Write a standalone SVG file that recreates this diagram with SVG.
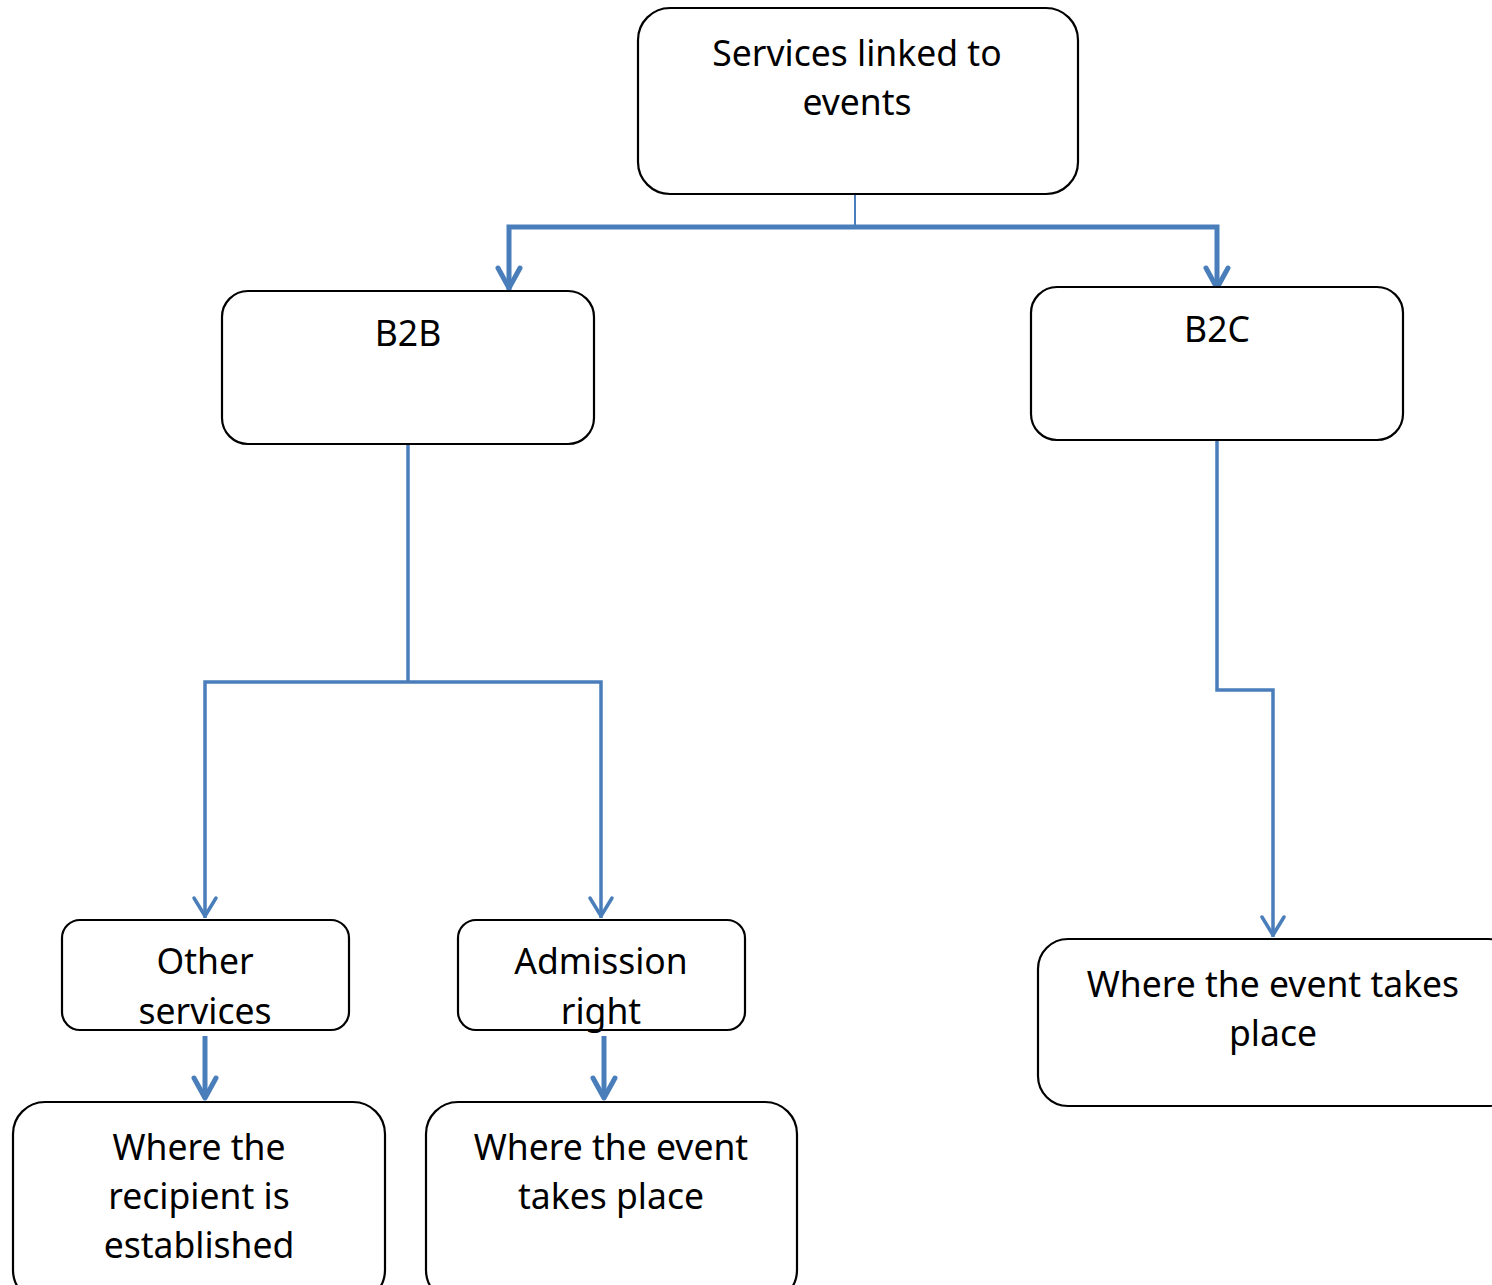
<svg xmlns="http://www.w3.org/2000/svg" width="1492" height="1285" viewBox="0 0 1492 1285">
<style>
.box{fill:#fff;stroke:#000;stroke-width:2.2}
.t{font-family:"Noto Sans","Open Sans","Liberation Sans",sans-serif;font-size:35.5px;fill:#000;text-anchor:middle}
.c{fill:none;stroke:#4a7ebb;stroke-linejoin:miter}
.ah{fill:none;stroke:#4a7ebb;stroke-linecap:round;stroke-linejoin:round}
</style>
<rect width="1492" height="1285" fill="#fff"/>
<g id="connectors">
<path class="c" d="M855 192V227" stroke-width="2"/>
<path class="c" d="M509 290V227H1217V290" stroke-width="5"/>
<path class="ah" d="M498 268L509 288L520 268" stroke-width="5"/>
<path class="ah" d="M1206 268L1217 288L1228 268" stroke-width="5"/>
<path class="c" d="M408 444V682M205 918V682H601V918" stroke-width="3.5"/>
<path class="ah" d="M194 898L205 916L216 898" stroke-width="3.5"/>
<path class="ah" d="M590 898L601 916L612 898" stroke-width="3.5"/>
<path class="c" d="M205 1036V1098" stroke-width="5"/>
<path class="ah" d="M194 1078L205 1098L216 1078" stroke-width="5"/>
<path class="c" d="M604 1036V1098" stroke-width="5"/>
<path class="ah" d="M593 1078L604 1098L615 1078" stroke-width="5"/>
<path class="c" d="M1217 440V690H1273V937" stroke-width="3.5"/>
<path class="ah" d="M1262 917L1273 935L1284 917" stroke-width="3.5"/>
</g>
<g id="n-top"><rect class="box" x="638" y="8" width="440" height="186" rx="32"/><text class="t" x="857" y="66">Services linked to</text><text class="t" x="857" y="115">events</text></g>
<g id="n-b2b"><rect class="box" x="222" y="291" width="372" height="153" rx="26"/><text class="t" x="408" y="346">B2B</text></g>
<g id="n-b2c"><rect class="box" x="1031" y="287" width="372" height="153" rx="26"/><text class="t" x="1217" y="342">B2C</text></g>
<g id="n-other"><rect class="box" x="62" y="920" width="287" height="110" rx="18"/><text class="t" x="205" y="974">Other</text><text class="t" x="205" y="1024">services</text></g>
<g id="n-admission"><rect class="box" x="458" y="920" width="287" height="110" rx="18"/><text class="t" x="601" y="974">Admission</text><text class="t" x="601" y="1024">right</text></g>
<g id="n-recipient"><rect class="box" x="13" y="1102" width="372" height="200" rx="32"/><text class="t" x="199" y="1160">Where the</text><text class="t" x="199" y="1209">recipient is</text><text class="t" x="199" y="1258">established</text></g>
<g id="n-event-mid"><rect class="box" x="426" y="1102" width="371" height="200" rx="32"/><text class="t" x="611" y="1160">Where the event</text><text class="t" x="611" y="1209">takes place</text></g>
<g id="n-event-right"><rect class="box" x="1038" y="939" width="480" height="167" rx="30"/><text class="t" x="1273" y="997">Where the event takes</text><text class="t" x="1273" y="1046">place</text></g>
</svg>
